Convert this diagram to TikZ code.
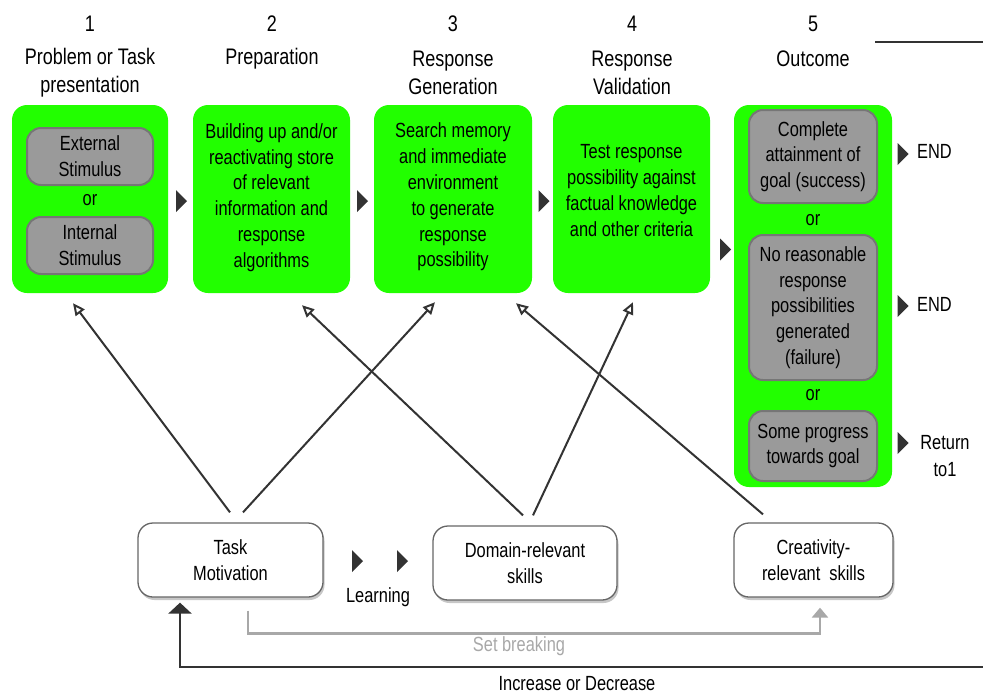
\documentclass[tikz,border=0pt]{standalone}
\usepackage{fontspec}
\setmainfont{Liberation Sans}[FakeStretch=0.8]
\usetikzlibrary{arrows.meta,calc,shadows}

\definecolor{stagegreen}{RGB}{34,255,0}
\definecolor{pillgray}{RGB}{154,154,154}
\definecolor{pilledge}{RGB}{118,118,118}
\definecolor{ink}{RGB}{51,51,51}
\definecolor{breakgray}{RGB}{168,168,168}

\begin{document}
\begin{tikzpicture}[x=1pt,y=-1pt,
  txt/.style={font=\fontsize{20.5}{25.8}\selectfont, align=center, inner sep=0pt},
  head/.style={font=\fontsize{22.5}{28}\selectfont, align=center, inner sep=0pt},
  stage/.style={draw=none, fill=stagegreen, rounded corners=15pt, inner sep=0pt},
  pill/.style={txt, draw=pilledge, line width=2pt, fill=pillgray, rounded corners=14pt},
  skill/.style={txt, draw=black!60, line width=1.3pt, fill=white, rounded corners=15pt,
    minimum height=74pt,
    drop shadow={shadow xshift=1.5pt, shadow yshift=-3pt, fill=black!22, opacity=1}},
  link/.style={draw=ink, line width=2pt, -{Triangle[open, length=12pt, width=11pt, line width=2pt]}},
  playtri/.pic={\fill[ink] (-5.5,-11) -- (5.5,0) -- (-5.5,11) -- cycle;},
]
\useasboundingbox (0,0) rectangle (983,697);

% column numbers and titles
\node[head] (n1) at (90,24) {1};
\node[head] (n2) at (272,24) {2};
\node[head] (n3) at (453,24) {3};
\node[head] (n4) at (632,24) {4};
\node[head] (n5) at (813,24) {5};
\node[head] (h1) at (90,73) {Problem or Task\\presentation};
\node[head] (h2) at (272,59) {Preparation};
\node[head] (h3) at (453,73) {Response\\Generation};
\node[head] (h4) at (632,73) {Response\\Validation};
\node[head] (h5) at (813,59) {Outcome};
\draw[ink, line width=1.8pt] (875,42) -- (983,42);

% the five stages
\node[stage, minimum width=156pt, minimum height=188pt] (s1) at (90,199) {};
\node[stage, minimum width=157pt, minimum height=188pt] (s2) at (271.5,199) {};
\node[stage, minimum width=158pt, minimum height=188pt] (s3) at (453,199) {};
\node[stage, minimum width=157pt, minimum height=188pt] (s4) at (631.5,199) {};
\node[stage, minimum width=158pt, minimum height=382pt] (s5) at (813,296) {};

% stage 1
\node[pill, minimum width=126pt, minimum height=57pt] (ext) at (90,156.5) {External\\Stimulus};
\node[txt] (or1) at (90,200) {or};
\node[pill, minimum width=126pt, minimum height=57pt] (int) at (90,245.5) {Internal\\Stimulus};

% stages 2-4
\node[txt] (t2) at (271.5,197.5) {Building up and/or\\reactivating store\\of relevant\\information and\\response\\algorithms};
\node[txt] (t3) at (453,197) {Search memory\\and immediate\\environment\\to generate\\response\\possibility};
\node[txt] (t4) at (631.5,190.5) {Test response\\possibility against\\factual knowledge\\and other criteria};

% stage 5
\node[pill, minimum width=128pt, minimum height=93pt] (win) at (813,156.5) {Complete\\attainment of\\goal (success)};
\node[txt] (or2) at (813,220) {or};
\node[pill, minimum width=128pt, minimum height=145pt] (fail) at (813,307.5) {No reasonable\\response\\possibilities\\generated\\(failure)};
\node[txt] (or3) at (813,395) {or};
\node[pill, minimum width=128pt, minimum height=70pt] (prog) at (813,446) {Some progress\\towards goal};

% flow marks between stages
\pic at ($(s1.east)!0.5!(s2.west)+(1,2)$) {playtri};
\pic at ($(s2.east)!0.5!(s3.west)+(0.5,2)$) {playtri};
\pic at ($(s3.east)!0.5!(s4.west)+(1.5,2)$) {playtri};
\pic at ($(s4.east)!0.5!(s5.west)+(3.5,2)$) {playtri};

% outcomes
\pic at (903,154) {playtri};
\pic at (903,306) {playtri};
\pic at (903,443) {playtri};
\node[txt, anchor=west] (end1) at (917,151) {END};
\node[txt, anchor=west] (end2) at (917,304) {END};
\node[txt] (ret) at (945,456) {Return\\[2pt]to1};

% components
\node[skill, minimum width=185pt] (task) at (230.5,560) {Task\\Motivation};
\node[skill, minimum width=184pt] (domain) at (525,563) {Domain-relevant\\skills};
\node[skill, minimum width=159pt] (creat) at (813.5,560) {Creativity-\\relevant\ \ skills};

\pic at (357.5,561) {playtri};
\pic at (402.5,561) {playtri};
\node[txt] (learn) at (378,597) {Learning};

% influences on the stages
\draw[link] ($(task.north)+(-0.5,-10)$) -- ($(s1.south)+(-17,10)$);
\draw[link] ($(task.north)+(12.5,-10)$) -- ($(s3.south)+(-18,9)$);
\draw[link] ($(domain.north)+(-2,-10)$) -- ($(s2.south)+(30.5,12)$);
\draw[link] ($(domain.north)+(8,-10)$) -- ($(s4.south)+(1.5,9)$);
\draw[link] ($(creat.north)+(-50.5,-8)$) -- ($(s3.south)+(63,10)$);

% set breaking
\draw[breakgray, line width=2.5pt, -{Triangle[length=10pt, width=16pt]}]
  ($(task.south)+(17.5,13)$) |- ($(creat.south)+(6.5,36)$) -- ($(creat.south)+(6.5,10)$);
\node[txt, text=breakgray] (setb) at (519,646) {Set breaking};

% feedback to motivation
\coordinate (rightedge) at (983,667);
\draw[ink, line width=2.5pt, -{Triangle[length=11pt, width=23pt]}]
  (rightedge) -| ($(task.south)+(-50.5,5)$);
\node[txt] (incdec) at (577,684) {Increase or Decrease};
\end{tikzpicture}
\end{document}
